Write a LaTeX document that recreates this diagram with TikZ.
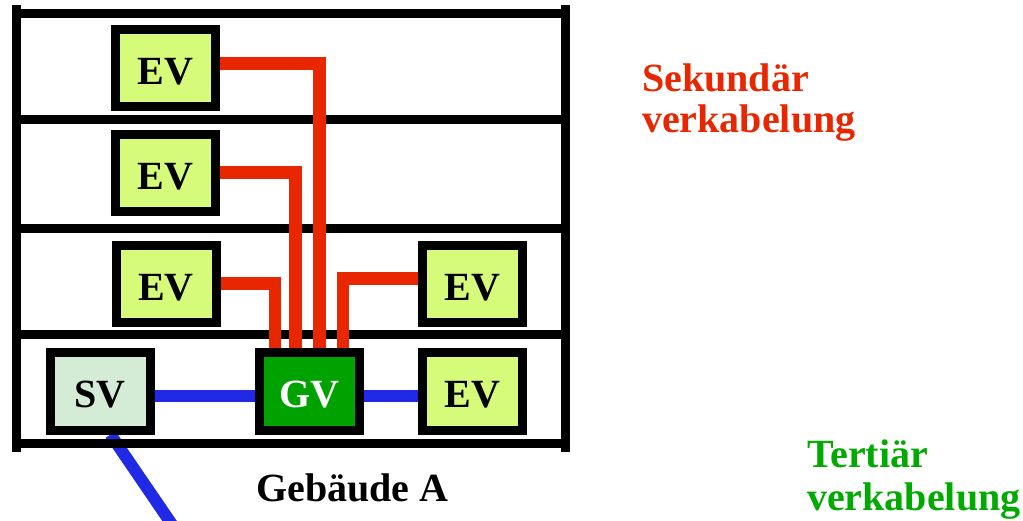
\documentclass[tikz,border=0pt]{standalone}
\usepackage{fontspec}
\setmainfont{Liberation Serif}
\definecolor{evfill}{RGB}{214,250,122}
\definecolor{svfill}{RGB}{212,236,214}
\definecolor{gvfill}{RGB}{0,162,0}
\definecolor{wirered}{RGB}{232,38,0}
\definecolor{wireblue}{RGB}{32,42,230}
\definecolor{txtgreen}{RGB}{0,170,0}
\pgfdeclarelayer{diaglayer}
\pgfdeclarelayer{framelayer}
\pgfdeclarelayer{wirelayer}
\pgfsetlayers{diaglayer,framelayer,wirelayer,main}
\tikzset{
  frameline/.style={line width=9pt, line cap=rect},
  box/.style={draw=black, line width=9pt, minimum width=100pt, minimum height=77pt,
    inner sep=0pt, text height=32.5pt, text depth=0pt,
    font=\fontsize{40}{42}\selectfont\bfseries},
  evbox/.style={box, fill=evfill},
  svbox/.style={box, fill=svfill},
  gvbox/.style={box, fill=gvfill, text=white},
  redwire/.style={draw=wirered, line width=12.5pt, line join=miter},
  bluewire/.style={draw=wireblue, line width=12pt},
  label/.style={inner sep=0pt, anchor=base west, align=left, font=\fontsize{40}{41}\selectfont\bfseries},
}
\begin{document}
\begin{tikzpicture}[x=1pt,y=-1pt]
\useasboundingbox (0,0) rectangle (1023,521);
% boxes
\path
  (165.5,68)   node[evbox] (ev1) {EV}
  (165.5,173)  node[evbox] (ev2) {EV}
  (166,284)    node[evbox] (ev3) {EV}
  (472.5,284)  node[evbox] (ev4) {EV}
  (100,391.5)  node[svbox] (sv)  {SV}
  (309.5,391.5) node[gvbox] (gv) {GV}
  (472.5,391.5) node[evbox] (ev5) {EV};
\coordinate (tail) at (173,526);
% blue diagonal below the frame
\begin{pgfonlayer}{diaglayer}
\draw[bluewire] ([xshift=10.5pt]sv.south) -- (tail);
\end{pgfonlayer}
% building frame
\begin{pgfonlayer}{framelayer}
\draw[frameline] (16.5,10) -- (16.5,447);
\draw[frameline] (565,10) -- (565,447);
\foreach \yy in {14,120,228.5,335,443}
  \draw[frameline] (16.5,\yy) -- (565,\yy);
\end{pgfonlayer}
% wires
\begin{pgfonlayer}{wirelayer}
\draw[redwire] ([yshift=4.5pt]ev1.east) -| ([xshift=10pt]gv.north);
\draw[redwire] ([yshift=0.5pt]ev2.east) -| ([xshift=-14pt]gv.north);
\draw[redwire] ([yshift=0.5pt]ev3.east) -| ([xshift=-34.5pt]gv.north);
\draw[redwire] ([yshift=5.5pt]ev4.west) -| ([xshift=33.5pt]gv.north);
\draw[bluewire] ([yshift=-4.5pt]sv.east) -- ([yshift=-4.5pt]gv.west);
\draw[bluewire] ([yshift=-4.5pt]gv.east) -- ([yshift=-4.5pt]ev5.west);
\end{pgfonlayer}
% labels
\node[label, text=wirered] (sek) at (642,133) {Sekundär\\verkabelung};
\node[label, text=txtgreen, font=\fontsize{40}{43}\selectfont\bfseries] (ter) at (807,510) {Tertiär\\verkabelung};
\node[label] (geb) at (256,501) {Gebäude A};
\end{tikzpicture}
\end{document}
